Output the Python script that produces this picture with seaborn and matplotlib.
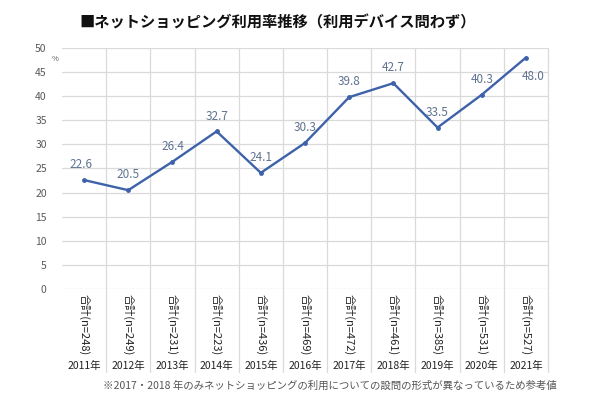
import numpy as np
import pandas as pnd
import seaborn as sns
import matplotlib
matplotlib.use("Agg")
import matplotlib.pyplot as plt

# data
years = ["2011年", "2012年", "2013年", "2014年", "2015年", "2016年",
         "2017年", "2018年", "2019年", "2020年", "2021年"]
rates = [22.6, 20.5, 26.4, 32.7, 24.1, 30.3, 39.8, 42.7, 33.5, 40.3, 48.0]
samples = [248, 249, 231, 223, 436, 469, 472, 461, 385, 531, 527]

title = "■ネットショッピング利用率推移（利用デバイス問わず）"
note = "※2017・2018 年のみネットショッピングの利用についての設問の形式が異なっているため参考値"

sns.set_theme(style="white")
plt.rcParams['font.family'] = ['Noto Sans CJK JP', 'DejaVu Sans']

line_col = "#3D62AA"
label_col = "#5F7390"
grid_col = "#DADADA"

dataFrame = pnd.DataFrame({"year": years, "rate": rates})

fig = plt.figure(figsize=(6, 3.99), dpi=100)
ax = fig.add_axes([0.1033, 0.2757, 0.81, 0.604])

g = sns.lineplot(data=dataFrame, x="year", y="rate", sort=False, ax=ax,
                 color=line_col, linewidth=1.7, marker="o", markersize=3.5,
                 markeredgewidth=0)

ax.set_xlim(-0.5, len(years) - 0.5)
ax.set_ylim(0, 50)
ax.set_yticks(np.arange(0, 51, 5))
ax.tick_params(axis="y", labelsize=7.5, colors="#595959", length=0, pad=11)
ax.set_xticks([])
ax.set_xlabel("")
ax.set_ylabel("")
for s in ax.spines.values():
    s.set_visible(False)

# horizontal grid
for yv in np.arange(0, 51, 5):
    ax.axhline(yv, color=grid_col, linewidth=0.9, zorder=0)

# vertical lines between categories, running down through the table area
trans = ax.get_xaxis_transform()
for k in range(1, len(years) + 1):
    ax.plot([k - 0.5, k - 0.5], [1, -0.345], transform=trans, color=grid_col,
            linewidth=0.9, clip_on=False, zorder=0)

# data labels
for i, v in enumerate(rates):
    if i == len(rates) - 1:
        ax.annotate(f"{v:.1f}", (i, v), xytext=(5, -16), textcoords="offset points",
                    ha="center", fontsize=8.5, color=label_col)
    else:
        ax.annotate(f"{v:.1f}", (i, v), xytext=(-2 if i == 0 else 0, 8.5),
                    textcoords="offset points", ha="center", fontsize=8.5,
                    color=label_col)

# table labels under the axis
for i, (yr, n) in enumerate(zip(years, samples)):
    ax.text(i, -0.02, f"合計(n={n})", transform=trans, rotation=270,
            ha="center", va="top", fontsize=8, color="#222222")
    ax.text(i, -0.32, yr, transform=trans, ha="center", va="center",
            fontsize=7.5, color="#222222")

fig.text(55 / 600, 1 - 59 / 399, "%", fontsize=5.5, color="#595959",
         ha="center", va="center")
fig.text(278 / 600, 1 - 22 / 399, title, fontsize=11, fontweight="bold",
         ha="center", va="center", color="#111111")
fig.text(557 / 600, 1 - 386 / 399, note, fontsize=7.5, color="#555555",
         ha="right", va="center")

fig.savefig("out.png", dpi=100, facecolor="white")
